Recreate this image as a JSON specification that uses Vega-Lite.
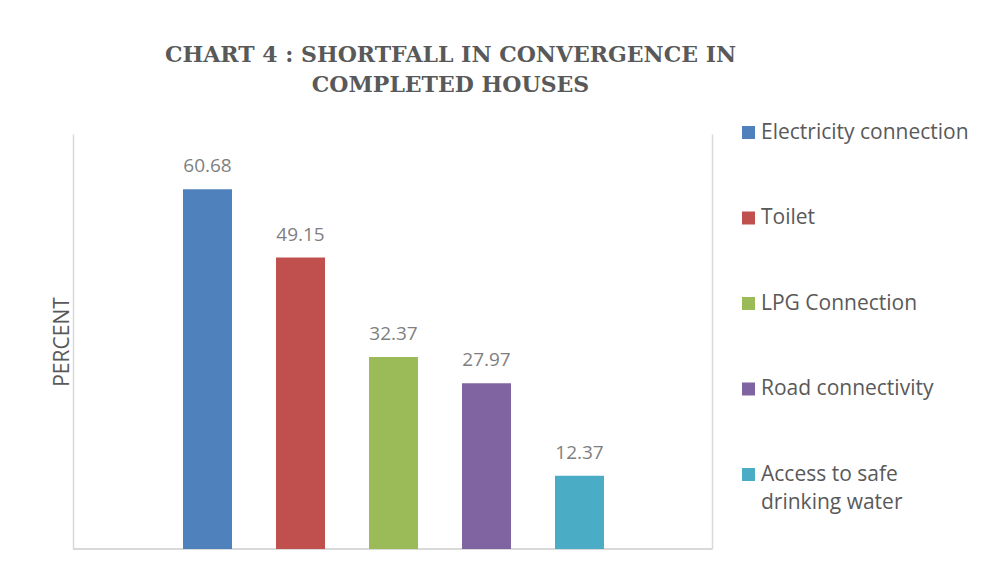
{
  "$schema": "https://vega.github.io/schema/vega-lite/v6.json",
  "autosize": "none",
  "width": 639,
  "height": 415,
  "padding": {"left": 73, "top": 134, "right": 296, "bottom": 37},
  "background": "white",
  "title": {
    "text": ["CHART 4 : SHORTFALL IN CONVERGENCE IN", "COMPLETED HOUSES"],
    "anchor": "middle",
    "frame": "group",
    "dx": 58,
    "offset": 25,
    "font": "DejaVu Serif",
    "fontSize": 22,
    "fontWeight": "bold",
    "color": "#595959",
    "lineHeight": 30
  },
  "data": {
    "values": [
      {"category": "Electricity connection", "percent": 60.68},
      {"category": "Toilet", "percent": 49.15},
      {"category": "LPG Connection", "percent": 32.37},
      {"category": "Road connectivity", "percent": 27.97},
      {"category": "Access to safe drinking water", "percent": 12.37}
    ]
  },
  "layer": [
    {
      "mark": {"type": "rule", "color": "#d9d9d9", "strokeWidth": 1.5},
      "encoding": {
        "y": {"datum": 0, "type": "quantitative", "scale": {"domain": [0, 70]}, "axis": null}
      }
    },
    {
      "mark": {"type": "bar"},
      "encoding": {
        "x": {
          "field": "category",
          "type": "nominal",
          "sort": null,
          "scale": {"paddingInner": 0.473, "paddingOuter": 1, "range": [17, 624]},
          "axis": null
        },
        "y": {
          "field": "percent",
          "type": "quantitative",
          "scale": {"domain": [0, 70]},
          "axis": {
            "title": "PERCENT",
            "titleFont": "Open Sans",
            "titleFontSize": 21,
            "titleFontWeight": "normal",
            "titleColor": "#595959",
            "titlePadding": 1,
            "labels": false,
            "ticks": false,
            "grid": false,
            "domainColor": "#d9d9d9",
            "domainWidth": 1.5
          }
        },
        "color": {
          "field": "category",
          "type": "nominal",
          "sort": null,
          "scale": {
            "domain": ["Electricity connection", "Toilet", "LPG Connection", "Road connectivity", "Access to safe drinking water"],
            "range": ["#4f81bd", "#c0504d", "#9bbb59", "#8064a2", "#4bacc6"]
          },
          "legend": {
            "title": null,
            "orient": "none",
            "legendX": 665,
            "legendY": -12,
            "padding": 0,
            "symbolType": "square",
            "symbolSize": 169,
            "symbolStrokeWidth": 0,
            "labelFont": "Open Sans",
            "labelFontSize": 21,
            "labelColor": "#595959",
            "labelOffset": 2,
            "labelLimit": 300,
            "rowPadding": 63.5,
            "labelExpr": "datum.label == 'Access to safe drinking water' ? ['Access to safe', 'drinking water'] : datum.label"
          }
        }
      }
    },
    {
      "mark": {"type": "text", "font": "Open Sans", "fontSize": 19, "color": "#7f7f7f", "baseline": "alphabetic", "dy": -17},
      "encoding": {
        "x": {
          "field": "category",
          "type": "nominal",
          "sort": null
        },
        "y": {
          "field": "percent",
          "type": "quantitative",
          "scale": {"domain": [0, 70]},
          "axis": {
            "orient": "right",
            "title": null,
            "labels": false,
            "ticks": false,
            "grid": false,
            "domainColor": "#d9d9d9",
            "domainWidth": 1.5
          }
        },
        "text": {"field": "percent", "type": "quantitative", "format": ".2f"}
      }
    }
  ],
  "resolve": {"axis": {"y": "independent"}},
  "config": {
    "view": {"stroke": null},
    "legend": {"symbolFillOpacity": 1},
    "style": {"guide-label": {"lineHeight": 28}}
  }
}
